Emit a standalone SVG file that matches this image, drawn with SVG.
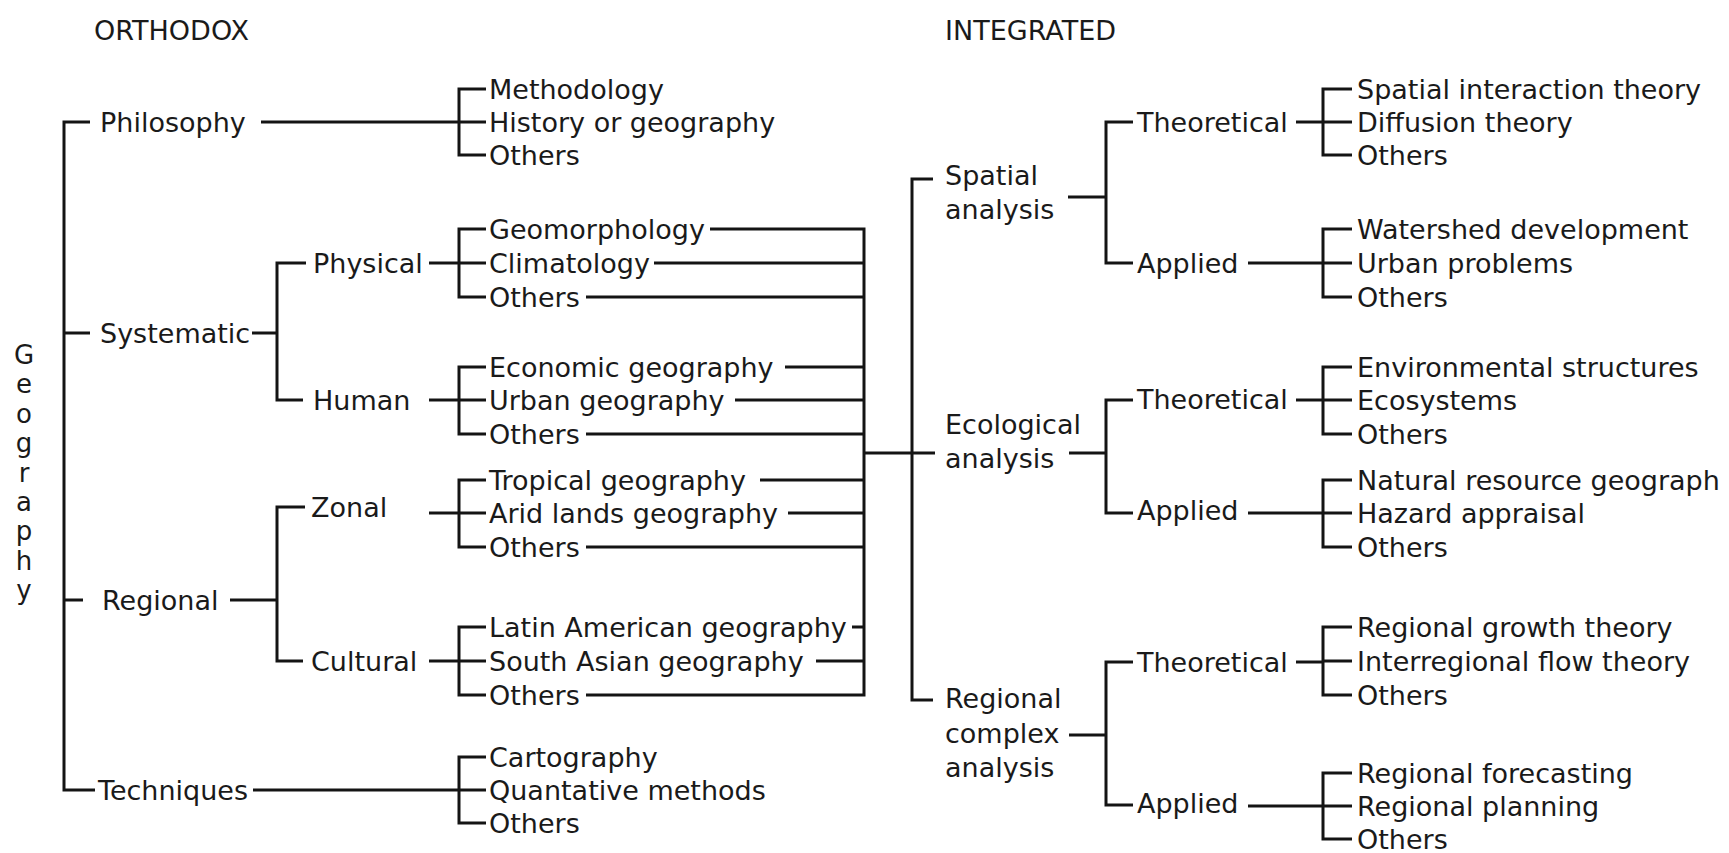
<svg xmlns="http://www.w3.org/2000/svg" width="1729" height="853" viewBox="0 0 1729 853">
<style>
text { font-family: "DejaVu Sans", "Liberation Sans", sans-serif; font-size: 27px; fill: #1a1a1a; }
.geo { text-anchor: middle; font-size: 26px; }
.ln { fill: none; stroke: #141414; stroke-width: 3; stroke-linejoin: miter; stroke-linecap: butt; }
</style>
<rect width="1729" height="853" fill="#ffffff"/>

<g id="connectors" class="ln">
  <!-- Orthodox -->
  <path d="M90,122 H64 V790 H95 M64,333 H90 M64,600 H83"/>
  <path d="M261,122 H459"/>
  <path d="M486,89 H459 V155 H486 M459,122 H486"/>
  <path d="M252,333 H277 M306,263 H277 V400 H303"/>
  <path d="M429,263 H459"/>
  <path d="M486,229 H459 V297 H486 M459,263 H486"/>
  <path d="M429,400 H459"/>
  <path d="M486,367 H459 V434 H486 M459,400 H486"/>
  <path d="M230,600 H277 M305,507 H277 V661 H303"/>
  <path d="M429,513 H459"/>
  <path d="M486,480 H459 V547 H486 M459,513 H486"/>
  <path d="M429,661 H459"/>
  <path d="M486,627 H459 V695 H486 M459,661 H486"/>
  <path d="M253,790 H459"/>
  <path d="M486,757 H459 V823 H486 M459,790 H486"/>
  <!-- collector -->
  <path d="M710,229 H864 V695 H586"/>
  <path d="M654,263 H864 M586,297 H864 M785,367 H864 M735,400 H864 M586,434 H864 M760,480 H864 M788,513 H864 M586,547 H864 M852,627 H864 M816,661 H864"/>
  <path d="M864,453 H935"/>
  <!-- Integrated -->
  <path d="M933,179 H912 V700 H933"/>
  <path d="M1068,197 H1106 M1133,122 H1106 V263 H1133"/>
  <path d="M1296,122 H1323"/>
  <path d="M1352,89 H1323 V155 H1352 M1323,122 H1352"/>
  <path d="M1248,263 H1323"/>
  <path d="M1352,229 H1323 V297 H1352 M1323,263 H1352"/>
  <path d="M1069,453 H1106 M1133,400 H1106 V513 H1133"/>
  <path d="M1296,400 H1323"/>
  <path d="M1352,367 H1323 V434 H1352 M1323,400 H1352"/>
  <path d="M1248,513 H1323"/>
  <path d="M1352,480 H1323 V547 H1352 M1323,513 H1352"/>
  <path d="M1069,735 H1106 M1133,662 H1106 V805 H1133"/>
  <path d="M1296,662 H1323"/>
  <path d="M1352,627 H1323 V695 H1352 M1323,661 H1352"/>
  <path d="M1248,806 H1323"/>
  <path d="M1352,773 H1323 V839 H1352 M1323,806 H1352"/>
</g>

<g id="title-orthodox"><text x="94" y="40">ORTHODOX</text></g>
<g id="title-integrated"><text x="945" y="40">INTEGRATED</text></g>

<g id="geography">
  <text class="geo" x="24" y="364">G</text>
  <text class="geo" x="24" y="393">e</text>
  <text class="geo" x="24" y="423">o</text>
  <text class="geo" x="24" y="452">g</text>
  <text class="geo" x="24" y="482">r</text>
  <text class="geo" x="24" y="511">a</text>
  <text class="geo" x="24" y="540">p</text>
  <text class="geo" x="24" y="570">h</text>
  <text class="geo" x="24" y="599">y</text>
</g>

<g id="philosophy"><text x="100" y="132">Philosophy</text></g>
<g id="systematic"><text x="100" y="343">Systematic</text></g>
<g id="regional"><text x="102" y="610">Regional</text></g>
<g id="techniques"><text x="98" y="800">Techniques</text></g>
<g id="physical"><text x="313" y="273">Physical</text></g>
<g id="human"><text x="313" y="410">Human</text></g>
<g id="zonal"><text x="311" y="517">Zonal</text></g>
<g id="cultural"><text x="311" y="671">Cultural</text></g>

<g id="philosophy-children">
  <text x="489" y="99">Methodology</text>
  <text x="489" y="132">History or geography</text>
  <text x="489" y="165">Others</text>
</g>
<g id="physical-children">
  <text x="489" y="239">Geomorphology</text>
  <text x="489" y="273">Climatology</text>
  <text x="489" y="307">Others</text>
</g>
<g id="human-children">
  <text x="489" y="377">Economic geography</text>
  <text x="489" y="410">Urban geography</text>
  <text x="489" y="444">Others</text>
</g>
<g id="zonal-children">
  <text x="489" y="490">Tropical geography</text>
  <text x="489" y="523">Arid lands geography</text>
  <text x="489" y="557">Others</text>
</g>
<g id="cultural-children">
  <text x="489" y="637">Latin American geography</text>
  <text x="489" y="671">South Asian geography</text>
  <text x="489" y="705">Others</text>
</g>
<g id="techniques-children">
  <text x="489" y="767">Cartography</text>
  <text x="489" y="800">Quantative methods</text>
  <text x="489" y="833">Others</text>
</g>

<g id="spatial-analysis">
  <text x="945" y="185">Spatial</text>
  <text x="945" y="219">analysis</text>
</g>
<g id="ecological-analysis">
  <text x="945" y="434">Ecological</text>
  <text x="945" y="468">analysis</text>
</g>
<g id="regional-complex-analysis">
  <text x="945" y="708">Regional</text>
  <text x="945" y="743">complex</text>
  <text x="945" y="777">analysis</text>
</g>

<g id="spatial-theoretical"><text x="1137" y="132">Theoretical</text></g>
<g id="spatial-applied"><text x="1137" y="273">Applied</text></g>
<g id="ecological-theoretical"><text x="1137" y="409">Theoretical</text></g>
<g id="ecological-applied"><text x="1137" y="520">Applied</text></g>
<g id="regional-theoretical"><text x="1137" y="672">Theoretical</text></g>
<g id="regional-applied"><text x="1137" y="813">Applied</text></g>

<g id="spatial-theoretical-children">
  <text x="1357" y="99">Spatial interaction theory</text>
  <text x="1357" y="132">Diffusion theory</text>
  <text x="1357" y="165">Others</text>
</g>
<g id="spatial-applied-children">
  <text x="1357" y="239">Watershed development</text>
  <text x="1357" y="273">Urban problems</text>
  <text x="1357" y="307">Others</text>
</g>
<g id="ecological-theoretical-children">
  <text x="1357" y="377">Environmental structures</text>
  <text x="1357" y="410">Ecosystems</text>
  <text x="1357" y="444">Others</text>
</g>
<g id="ecological-applied-children">
  <text x="1357" y="490">Natural resource geograph</text>
  <text x="1357" y="523">Hazard appraisal</text>
  <text x="1357" y="557">Others</text>
</g>
<g id="regional-theoretical-children">
  <text x="1357" y="637">Regional growth theory</text>
  <text x="1357" y="671">Interregional flow theory</text>
  <text x="1357" y="705">Others</text>
</g>
<g id="regional-applied-children">
  <text x="1357" y="783">Regional forecasting</text>
  <text x="1357" y="816">Regional planning</text>
  <text x="1357" y="849">Others</text>
</g>
</svg>
